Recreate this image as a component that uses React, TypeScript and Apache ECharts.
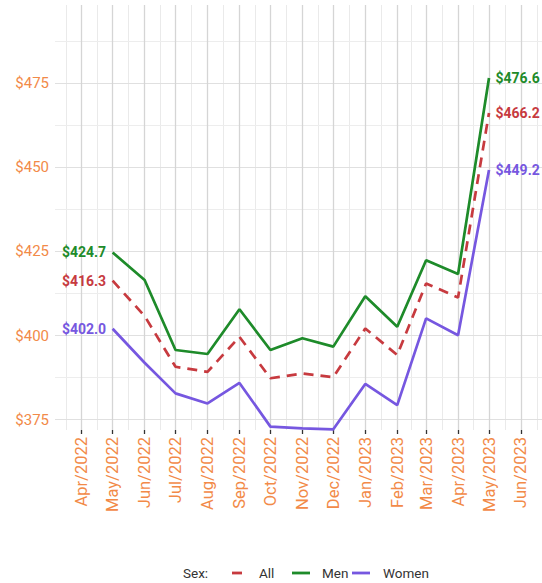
import React, { useEffect, useRef } from "react";
import * as echarts from "echarts";

const tickLabels = ["Apr/2022", "May/2022", "Jun/2022", "Jul/2022", "Aug/2022", "Sep/2022", "Oct/2022", "Nov/2022", "Dec/2022", "Jan/2023", "Feb/2023", "Mar/2023", "Apr/2023", "May/2023", "Jun/2023"];
const tickDates = ["2022-04-01", "2022-05-01", "2022-06-01", "2022-07-01", "2022-08-01", "2022-09-01", "2022-10-01", "2022-11-01", "2022-12-01", "2023-01-01", "2023-02-01", "2023-03-01", "2023-04-01", "2023-05-01", "2023-06-01"];
const dataDates = ["2022-05-01", "2022-06-01", "2022-07-01", "2022-08-01", "2022-09-01", "2022-10-01", "2022-11-01", "2022-12-01", "2023-01-01", "2023-02-01", "2023-03-01", "2023-04-01", "2023-05-01"];
const allValues = [416.3, 405.8, 390.7, 389.2, 399.6, 387.3, 388.7, 387.6, 402.1, 394.2, 415.5, 411.3, 466.2];
const menValues = [424.7, 416.5, 395.7, 394.5, 407.8, 395.7, 399.2, 396.7, 411.7, 402.6, 422.4, 418.3, 476.6];
const womenValues = [402.0, 391.9, 382.8, 379.8, 385.9, 372.9, 372.4, 372.1, 385.6, 379.3, 405.1, 400.1, 449.2];
const yMajor = [375, 400, 425, 450, 475];
const yMinor = [387.5, 412.5, 437.5, 462.5, 487.5];
const seriesNames = ["All", "Men", "Women"];

const COLORS: Record<string, string> = { All: "#C73A3F", Men: "#1E8B2A", Women: "#7657E0" };
const ORANGE = "#F28A48";
const FONT = "Roboto";
const DAY = 86400000;
const origin = Date.parse("2022-04-01");
const toDay = (d: string) => (Date.parse(d) - origin) / DAY;

export default function App() {
  const ref = useRef<HTMLDivElement>(null);
  useEffect(() => {
    if (!ref.current) return;
    const chart = echarts.init(ref.current, null, { renderer: "svg" });
    const tickDays = tickDates.map(toDay);
    const labelByDay: Record<string, string> = {};
    tickDays.forEach((d, i) => (labelByDay[String(d)] = tickLabels[i]));
    const minorDays: number[] = [];
    minorDays.push(tickDays[0] - (tickDays[1] - tickDays[0]) / 2);
    for (let i = 0; i < tickDays.length - 1; i++) minorDays.push((tickDays[i] + tickDays[i + 1]) / 2);
    minorDays.push(tickDays[tickDays.length - 1] + (tickDays[tickDays.length - 1] - tickDays[tickDays.length - 2]) / 2);

    const valuesByName: Record<string, number[]> = { All: allValues, Men: menValues, Women: womenValues };
    const n = dataDates.length;

    const lineSeries = seriesNames.map((name) => ({
      name,
      type: "line",
      z: 3,
      symbol: "circle",
      symbolSize: 1,
      showSymbol: true,
      itemStyle: { color: COLORS[name], opacity: 0 },
      color: COLORS[name],
      lineStyle: {
        color: COLORS[name],
        width: 2.7,
        type: name === "All" ? [10, 7] : "solid",
        cap: "butt",
      },
      labelLayout: { hideOverlap: false },
      data: dataDates.map((d, i) => {
        const item: any = { value: [toDay(d), valuesByName[name][i]] };
        if (i === 0 || i === n - 1) {
          item.label = {
            show: true,
            position: i === 0 ? "left" : "right",
            distance: 6,
            formatter: "$" + valuesByName[name][i].toFixed(1),
            color: COLORS[name],
            fontFamily: FONT,
            fontWeight: "bold",
            fontSize: 14,
            opacity: 1,
          };
        }
        return item;
      }),
    }));

    const gridLines: any[] = [];
    minorDays.forEach((v) => gridLines.push({ xAxis: v, lineStyle: { color: "#EAEAEA", width: 1, type: "solid" } }));
    yMinor.forEach((v) => gridLines.push({ yAxis: v, lineStyle: { color: "#EDEDED", width: 1, type: "solid" } }));
    yMajor.forEach((v) => gridLines.push({ yAxis: v, lineStyle: { color: "#E0E0E0", width: 1.2, type: "solid" } }));
    tickDays.forEach((v) => gridLines.push({ xAxis: v, lineStyle: { color: "#D5D5D5", width: 1.3, type: "solid" } }));

    const legendBase = {
      orient: "horizontal",
      top: 566,
      padding: 0,
      itemHeight: 2.8,
      icon: "rect",
      selectedMode: false,
      textStyle: { fontFamily: FONT, fontSize: 13.5, color: "#333" },
    };
    const legendFor = (name: string, left: number, width: number, pad: number) => ({
      ...legendBase,
      left,
      itemWidth: width,
      data: [name],
      itemStyle: { color: COLORS[name], opacity: 1, borderWidth: 0 },
      textStyle: { ...legendBase.textStyle, padding: [0, 0, 0, pad] },
    });

    chart.setOption({
      animation: false,
      backgroundColor: "#ffffff",
      grid: { left: 55, right: 0, top: 5, height: 425, containLabel: false },
      xAxis: {
        type: "value",
        min: -25.9,
        max: 446.4,
        axisLine: { show: false },
        splitLine: { show: false },
        axisTick: {
          show: true,
          customValues: tickDays,
          length: 4,
          lineStyle: { color: "#333", width: 1.3 },
        },
        axisLabel: {
          customValues: tickDays,
          rotate: 90,
          margin: 7,
          color: ORANGE,
          fontFamily: FONT,
          fontSize: 16.5,
          formatter: (v: number) => labelByDay[String(v)] ?? "",
        },
      },
      yAxis: {
        type: "value",
        min: 371.9,
        max: 498.3,
        axisLine: { show: false },
        axisTick: { show: false },
        splitLine: { show: false },
        axisLabel: {
          customValues: yMajor,
          margin: 6,
          color: ORANGE,
          fontFamily: FONT,
          fontSize: 15,
          formatter: (v: number) => "$" + v,
        },
      },
      legend: [
        legendFor("All", 232, 10, 12),
        legendFor("Men", 292, 18, 7),
        legendFor("Women", 352, 18, 8),
      ],
      graphic: [
        {
          type: "text",
          left: 183,
          top: 566,
          style: { text: "Sex:", fontFamily: FONT, fontSize: 13.5, fill: "#333" },
        },
      ],
      series: [
        {
          name: "grid",
          type: "line",
          z: 1,
          data: [],
          silent: true,
          markLine: {
            z: 1,
            silent: true,
            symbol: ["none", "none"],
            label: { show: false },
            animation: false,
            data: gridLines,
          },
        },
        ...lineSeries,
      ],
    });
    return () => chart.dispose();
  }, []);
  return <div ref={ref} style={{ position: "absolute", left: 0, top: 0, width: 542, height: 583 }} />;
}
